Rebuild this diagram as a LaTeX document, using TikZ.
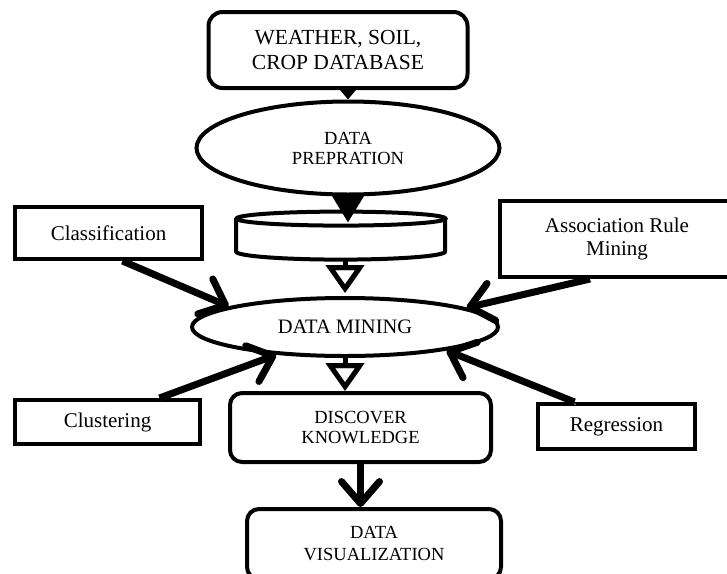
\documentclass[tikz,border=0pt]{standalone}
\usepackage{fontspec}
\setmainfont{Liberation Serif}
\usetikzlibrary{shapes.geometric}
\usetikzlibrary{arrows.meta}

\tikzset{
  sbox/.style={draw, line width=2pt, align=center, inner sep=0pt, font=\fontsize{10.5}{11.5}\selectfont},
  rbox/.style={sbox, rounded corners=7pt},
  oval/.style={draw, ellipse, line width=2pt, align=center, inner sep=0pt},
  drop/.style={preaction={draw=black!35, transform canvas={shift={(0.6pt,-1.2pt)}}}},
  barb/.style={-{Straight Barb[length=11pt,width=19pt,round]}, line width=3.5pt, drop},
  hollow/.style={-{Triangle[open,length=14pt,width=19pt]}, line width=2.5pt, drop},
}

\begin{document}
\begin{tikzpicture}[x=0.5pt, y=-0.5pt]
\useasboundingbox (0,0) rectangle (727,573);

% weather, soil, crop
\node[rbox, minimum width=129.5pt, minimum height=38pt, font=\fontsize{10.75}{12.5}\selectfont] (wsc) at (338,50) {WEATHER, SOIL,\\CROP DATABASE};

% data prepration
\node[oval, minimum width=151.5pt, minimum height=46.5pt, font=\fontsize{9.25}{10}\selectfont] (prep) at (348,148) {DATA\\PREPRATION};
\draw[-{Triangle[length=5pt,width=8pt]}, line width=1.5pt] (prep.north |- wsc.south) -- (prep.north);

% store
\node[minimum width=104.5pt, minimum height=24pt, inner sep=0pt] (store) at (341,236) {};
\draw[line width=2pt] ([yshift=-3.5pt]store.north) ellipse [x radius=52.25pt, y radius=3.5pt];
\draw[line width=2pt] (store.north west) ++(0,7) -- ++(0,33)
  arc[start angle=180, end angle=360, x radius=52.25pt, y radius=4pt] -- ++(0,-33);
\draw[-{Triangle[length=14pt,width=16pt]}, line width=3pt, drop, shorten >=-5.5pt] (prep.south) -- (prep.south |- store.north);

% data mining
\node[oval, minimum width=153pt, minimum height=29pt, font=\fontsize{10.25}{12}\selectfont] (dm) at (345,327) {DATA MINING};
\draw[hollow, shorten >=1.5pt] (store.south -| dm.north) -- (dm.north);

% classification, association rule mining
\node[sbox, minimum width=93.5pt, minimum height=26pt] (cls) at (108.5,233) {Classification};
\node[sbox, minimum width=117pt, minimum height=38pt] (arm) at (617,239) {Association Rule\\Mining};
\draw[barb] ([xshift=7pt]cls.south) -- (dm.170);
\draw[barb] ([xshift=-13.5pt]arm.south) -- (dm.9);

% clustering, regression
\node[sbox, minimum width=92.5pt, minimum height=22pt] (clu) at (107.5,422) {Clustering};
\node[sbox, minimum width=78.5pt, minimum height=22.5pt] (reg) at (616.5,426.5) {Regression};
\draw[barb] ([xshift=26pt]clu.north) -- (dm.202);
\draw[barb] ([xshift=-21pt]reg.north) -- (dm.347);

% discover knowledge
\node[rbox, rounded corners=6pt, minimum width=130.5pt, minimum height=34.5pt, font=\fontsize{9.25}{10}\selectfont] (dk) at (360.5,427.5) {DISCOVER\\KNOWLEDGE};
\draw[hollow] (dm.south) -- (dm.south |- dk.north);

% data visualization
\node[rbox, rounded corners=6pt, minimum width=127pt, minimum height=35pt, font=\fontsize{9.25}{11}\selectfont] (vis) at (374,544) {DATA\\VISUALIZATION};
\draw[barb] (dk.south) -- (dk.south |- vis.north);
\end{tikzpicture}
\end{document}
